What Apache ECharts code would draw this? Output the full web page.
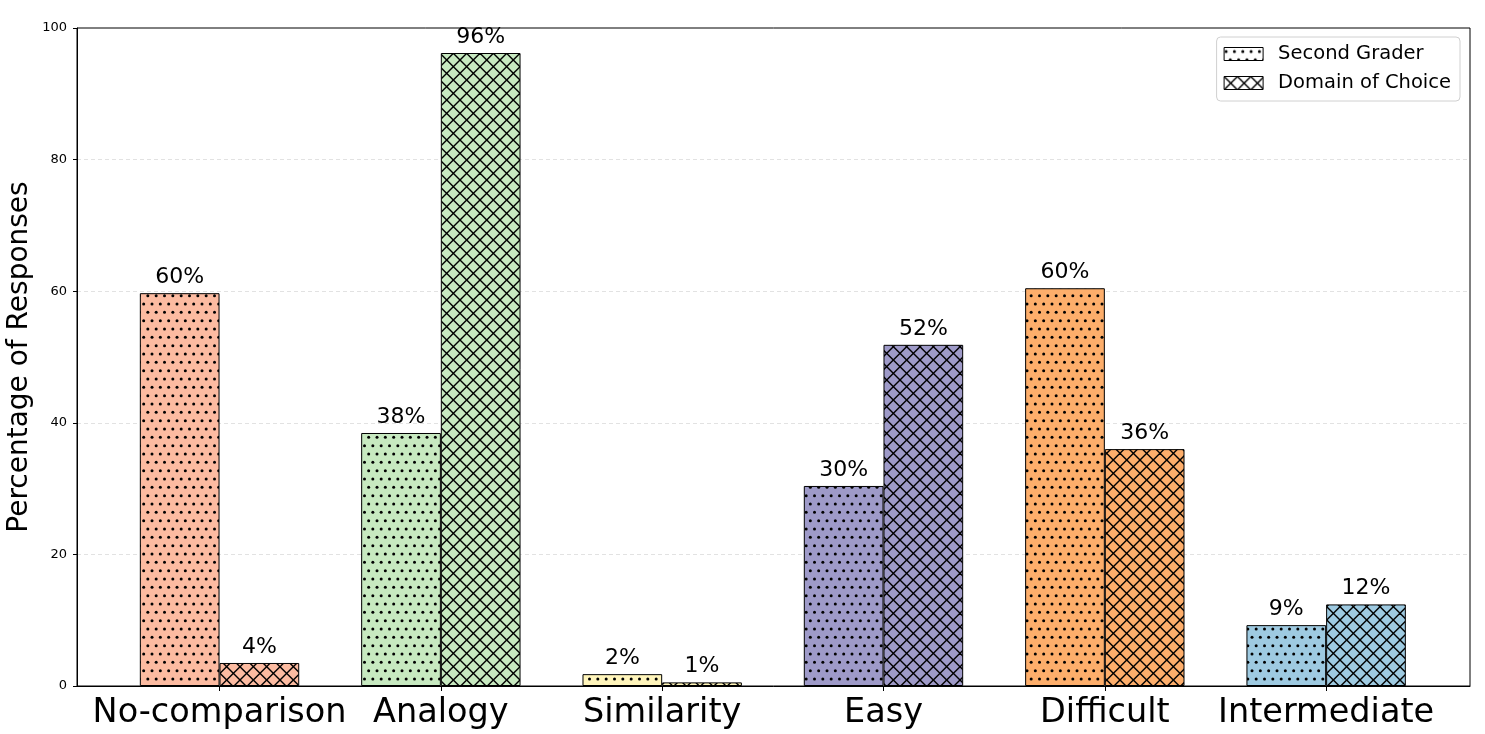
<!DOCTYPE html>
<html><head><meta charset="utf-8">
<script src="https://cdn.jsdelivr.net/npm/echarts@6/dist/echarts.min.js"></script>
<style>html,body{margin:0;padding:0;background:#fff}#c{width:1485px;height:734px}</style>
</head><body><div id="c"></div>
<script>
const categories = ['No-comparison', 'Analogy', 'Similarity', 'Easy', 'Difficult', 'Intermediate'];
const secondGrader = [59.7, 38.45, 1.8, 30.4, 60.45, 9.25];
const domainOfChoice = [3.5, 96.2, 0.55, 51.85, 36.0, 12.4];
const categoryColors = ['#fcbba1', '#c7e9c0', '#fff5bb', '#9e9ac8', '#fdae6b', '#9ecae1'];
const seriesNames = ['Second Grader', 'Domain of Choice'];
const categoryIndex = [0, 1, 2, 3, 4, 5];

function dotPattern(bg) {
  const c = document.createElement('canvas'); c.width = 25; c.height = 50;
  const g = c.getContext('2d');
  g.fillStyle = bg; g.fillRect(0, 0, 25, 50);
  g.fillStyle = '#000';
  for (let r = 0; r < 6; r++) {
    const y = r * 50 / 6 + 4;
    const off = (r % 2) * 25 / 6;
    for (let k = 0; k < 3; k++) {
      const x = k * 25 / 3 + off + 2;
      g.beginPath(); g.arc(x, y, 1.5, 0, Math.PI * 2); g.fill();
    }
  }
  return { image: c, repeat: 'repeat' };
}
function crossPattern(bg) {
  const s = 40, p = 40 / 3;
  const c = document.createElement('canvas'); c.width = s; c.height = s;
  const g = c.getContext('2d');
  g.fillStyle = bg; g.fillRect(0, 0, s, s);
  g.strokeStyle = '#000'; g.lineWidth = 1.4;
  for (let k = -4; k <= 7; k++) {
    g.beginPath(); g.moveTo(k * p, 0); g.lineTo(k * p + s, s); g.stroke();
    g.beginPath(); g.moveTo(k * p, 0); g.lineTo(k * p - s, s); g.stroke();
  }
  return { image: c, repeat: 'repeat' };
}

const chart = echarts.init(document.getElementById('c'), null, { renderer: 'canvas' });
const FONT = 'DejaVu Sans';
const labelCfg = {
  show: true, position: 'top', distance: 5, fontSize: 22, color: '#000', fontFamily: FONT,
  formatter: p => Math.round(p.value[1]) + '%'
};
const option = {
  animation: false,
  backgroundColor: '#fff',
  textStyle: { fontFamily: FONT },
  grid: { left: 77, right: 15, top: 28, bottom: 48, outerBoundsMode: 'none', containLabel: false, show: true, borderColor: '#000', borderWidth: 1, backgroundColor: 'transparent' },
  legend: {
    orient: 'vertical', right: 25, top: 37, padding: [7, 9, 8, 7], itemGap: 9,
    itemWidth: 39, itemHeight: 13, icon: 'rect',
    borderColor: '#d0d0d0', borderWidth: 1, borderRadius: 4, backgroundColor: '#fff',
    textStyle: { fontSize: 19.5, color: '#000', fontFamily: FONT, padding: [0, 0, 0, 10], lineHeight: 19 },
    data: [
      { name: seriesNames[0], itemStyle: { color: dotPattern('#fff'), borderColor: '#000', borderWidth: 1 } },
      { name: seriesNames[1], itemStyle: { color: crossPattern('#fff'), borderColor: '#000', borderWidth: 1 } }
    ]
  },
  xAxis: [
    {
      type: 'value', min: -0.644, max: 5.65, position: 'bottom',
      splitLine: { show: false },
      axisLine: { show: true, onZero: false, lineStyle: { color: '#000' } },
      axisTick: { show: true, customValues: categoryIndex, length: 5, lineStyle: { color: '#000' } },
      axisLabel: { customValues: categoryIndex, formatter: v => categories[Math.round(v)], fontSize: 33.5, color: '#000', margin: 10, fontFamily: FONT }
    },
    { type: 'value', min: -0.644, max: 5.65, position: 'top', show: false }
  ],
  yAxis: {
    type: 'value', min: 0, max: 100, interval: 20,
    axisLine: { show: true, onZero: false, lineStyle: { color: '#000' } },
    axisTick: { show: true, length: 4, lineStyle: { color: '#000' } },
    axisLabel: { fontSize: 13, color: '#000', margin: 10, fontFamily: FONT },
    splitLine: { show: true, lineStyle: { color: ['rgba(0,0,0,0)', '#e2e2e2', '#e2e2e2', '#e2e2e2', '#e2e2e2', 'rgba(0,0,0,0)'], type: [4, 3] } },
    name: 'Percentage of Responses', nameLocation: 'middle', nameGap: 43, nameMoveOverlap: false,
    nameTextStyle: { fontSize: 28, color: '#000', fontFamily: FONT }
  },
  series: [
    {
      name: seriesNames[0], type: 'bar', xAxisIndex: 0, barWidth: 79.7,
      itemStyle: { color: dotPattern('#fff'), borderColor: '#000', borderWidth: 1 },
      label: labelCfg,
      data: secondGrader.map((v, i) => ({ value: [i - 0.18, v], itemStyle: { color: dotPattern(categoryColors[i]) } }))
    },
    {
      name: seriesNames[1], type: 'bar', xAxisIndex: 1, barWidth: 79.7,
      itemStyle: { color: crossPattern('#fff'), borderColor: '#000', borderWidth: 1 },
      label: labelCfg,
      data: domainOfChoice.map((v, i) => ({ value: [i + 0.18, v], itemStyle: { color: crossPattern(categoryColors[i]) } }))
    }
  ]
};
chart.setOption(option);
</script>
</body></html>
